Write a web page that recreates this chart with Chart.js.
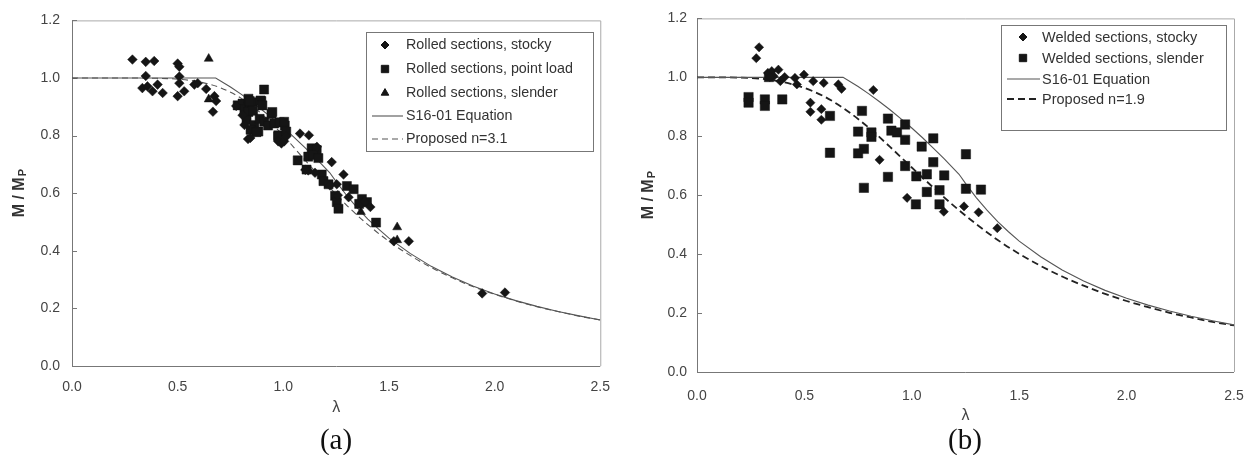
<!DOCTYPE html>
<html>
<head>
<meta charset="utf-8">
<script src="https://cdn.jsdelivr.net/npm/chart.js@4.4.1/dist/chart.umd.min.js"></script>
<style>
  html, body { margin: 0; padding: 0; background: #fff; overflow: hidden; }
  body { width: 1246px; height: 455px; position: relative; }
  canvas { position: absolute; top: 0; }
  #chartA { left: 0; }
  #chartB { left: 623px; }
  .cap { position: absolute; top: 423px; width: 60px; text-align: center; line-height: 32px;
         font-family: "Liberation Serif", "Times New Roman", serif; font-size: 29px; color: #111; }
</style>
</head>
<body>
<canvas id="chartA" width="623" height="430"></canvas>
<canvas id="chartB" width="640" height="430"></canvas>
<div class="cap" style="left:306px">(a)</div>
<div class="cap" style="left:935px">(b)</div>

<script>
// ---------- (a) rolled sections ----------
var rolledStockyX = [0.286, 0.349, 0.389, 0.349, 0.333, 0.357, 0.381, 0.405, 0.429, 0.500, 0.508, 0.508, 0.508, 0.500, 0.531,
    0.579, 0.595, 0.635, 0.674, 0.682, 0.667, 0.777, 0.807, 0.816, 0.833, 0.844, 0.991, 0.976, 1.004, 1.014,
    1.079, 1.121, 1.229, 1.118, 1.150, 1.285, 1.253, 1.221, 1.309, 1.258, 1.412, 1.386, 1.523, 1.594, 1.941,
    2.049, 1.159, 1.104];
var rolledStockyY = [1.064, 1.056, 1.059, 1.007, 0.965, 0.971, 0.954, 0.977, 0.948, 1.050, 1.039, 1.005, 0.982, 0.937, 0.954,
    0.977, 0.982, 0.962, 0.937, 0.920, 0.883, 0.903, 0.871, 0.837, 0.788, 0.792, 0.773, 0.780, 0.780, 0.797,
    0.807, 0.801, 0.708, 0.679, 0.671, 0.665, 0.631, 0.627, 0.586, 0.593, 0.552, 0.570, 0.433, 0.433, 0.252,
    0.255, 0.761, 0.681];

var rolledPointX = [0.784, 0.807, 0.816, 0.835, 0.841, 0.835, 0.854, 0.841, 0.857, 0.826, 0.863, 0.845, 0.882, 0.873, 0.896,
    0.888, 0.909, 0.892, 0.901, 0.910, 0.944, 0.928, 0.948, 0.957, 0.983, 1.007, 0.976, 0.976, 1.004, 1.014,
    1.068, 1.118, 1.134, 1.158, 1.142, 1.166, 1.110, 1.182, 1.190, 1.214, 1.301, 1.333, 1.245, 1.253, 1.261,
    1.372, 1.396, 1.359, 1.439];
var rolledPointY = [0.905, 0.911, 0.891, 0.928, 0.905, 0.882, 0.916, 0.920, 0.886, 0.854, 0.837, 0.820, 0.814, 0.812, 0.920,
    0.858, 0.960, 0.922, 0.905, 0.848, 0.875, 0.835, 0.882, 0.842, 0.846, 0.835, 0.801, 0.797, 0.848, 0.814,
    0.714, 0.727, 0.756, 0.750, 0.733, 0.722, 0.682, 0.665, 0.642, 0.631, 0.625, 0.614, 0.591, 0.569, 0.546,
    0.580, 0.569, 0.563, 0.498];

var rolledSlenderX = [0.647, 0.647, 1.367, 1.539, 1.539];
var rolledSlenderY = [1.067, 0.926, 0.535, 0.482, 0.437];

// ---------- (b) welded sections ----------
var weldedStockyX = [0.289, 0.276, 0.330, 0.348, 0.379, 0.357, 0.339, 0.388, 0.408, 0.456, 0.465, 0.498, 0.541, 0.590, 0.658,
    0.673, 0.821, 0.528, 0.528, 0.579, 0.579, 0.850, 0.978, 1.149, 1.243, 1.311, 1.398];
var weldedStockyY = [1.102, 1.065, 1.015, 1.021, 1.026, 1.004, 1.001, 0.987, 1.001, 0.998, 0.976, 1.009, 0.987, 0.981, 0.976,
    0.961, 0.957, 0.914, 0.883, 0.892, 0.856, 0.720, 0.591, 0.544, 0.562, 0.542, 0.488];

var weldedSlenderX = [0.240, 0.240, 0.316, 0.316, 0.397, 0.335, 0.619, 0.619, 0.768, 0.750, 0.777, 0.750, 0.777, 0.812, 0.812,
    0.889, 0.905, 0.931, 0.969, 0.969, 0.969, 0.889, 1.046, 1.100, 1.100, 1.021, 1.070, 1.070, 1.019, 1.151,
    1.129, 1.129, 1.252, 1.252, 1.322];
var weldedSlenderY = [0.933, 0.914, 0.925, 0.903, 0.925, 1.001, 0.869, 0.744, 0.886, 0.816, 0.757, 0.742, 0.625, 0.813, 0.798,
    0.860, 0.819, 0.813, 0.840, 0.788, 0.699, 0.662, 0.765, 0.793, 0.712, 0.664, 0.671, 0.611, 0.569, 0.667,
    0.617, 0.569, 0.739, 0.622, 0.619];

// ---------- design curves ----------
var s16X = [0, 0.68, 0.75, 0.8, 0.85, 0.9, 0.95, 1.0, 1.05, 1.1, 1.15, 1.2, 1.22, 1.25, 1.3, 1.35, 1.4, 1.45, 1.5,
    1.6, 1.7, 1.8, 1.9, 2.0, 2.1, 2.2, 2.3, 2.4, 2.5];
var s16Y = [1, 1, 0.969, 0.944, 0.917, 0.889, 0.859, 0.828, 0.795, 0.760, 0.724, 0.686, 0.671, 0.640, 0.592, 0.549, 0.510,
    0.476, 0.444, 0.391, 0.346, 0.309, 0.277, 0.250, 0.227, 0.207, 0.189, 0.174, 0.160];

var prop31X = [0, 0.3, 0.4, 0.5, 0.6, 0.7, 0.8, 0.9, 1.0, 1.1, 1.2, 1.3, 1.4, 1.5, 1.6, 1.7, 1.8, 1.9, 2.0, 2.1, 2.2,
    2.3, 2.4, 2.5];
var prop31Y = [1, 1.000, 0.999, 0.996, 0.987, 0.967, 0.930, 0.874, 0.800, 0.717, 0.635, 0.558, 0.491, 0.433, 0.384, 0.342,
    0.306, 0.275, 0.249, 0.226, 0.206, 0.189, 0.173, 0.160];

var prop19X = [0, 0.1, 0.2, 0.3, 0.4, 0.5, 0.6, 0.7, 0.8, 0.9, 1.0, 1.1, 1.2, 1.3, 1.4, 1.5, 1.6, 1.7, 1.8, 1.9, 2.0,
    2.1, 2.2, 2.3, 2.4, 2.5];
var prop19Y = [1, 1.000, 0.999, 0.995, 0.984, 0.964, 0.932, 0.886, 0.829, 0.763, 0.694, 0.626, 0.561, 0.502, 0.448, 0.401,
    0.360, 0.324, 0.293, 0.265, 0.241, 0.220, 0.201, 0.185, 0.170, 0.158];

var xTicks = [0, 0.5, 1.0, 1.5, 2.0, 2.5];
var yTicks = [0, 0.2, 0.4, 0.6, 0.8, 1.0, 1.2];

var FONT = '"Liberation Sans", Arial, sans-serif';
var INK = '#151515';

function pts(xs, ys) {
    return xs.map((x, i) => ({ x: x, y: ys[i] }));
}

function marks(label, xs, ys, style, r, rLeg) {
    return { label: label, data: pts(xs, ys), pointStyle: style, pointRadius: r, pointHoverRadius: r, legendRadius: rLeg,
        backgroundColor: INK, borderColor: INK, borderWidth: 0.5, showLine: false, order: 1 };
}

function courbe(label, xs, ys, dash, width, color, smooth) {
    return { label: label, data: pts(xs, ys), showLine: true, pointRadius: 0, borderColor: color,
        borderWidth: width, borderDash: dash, tension: 0, order: 2,
        cubicInterpolationMode: smooth ? 'monotone' : 'default' };
}

// cadre, petits traits, titre vertical et légende encadrée
var cadrePlugin = {
    id: 'cadre',
    beforeDatasetsDraw(chart, args, o) {
        var ctx = chart.ctx, a = chart.chartArea, ys = chart.scales.y;
        ctx.save();
        ctx.lineWidth = 1;
        ctx.strokeStyle = '#aaa';
        ctx.beginPath();
        ctx.moveTo(a.left, a.top + 0.5); ctx.lineTo(a.right + 0.5, a.top + 0.5); ctx.lineTo(a.right + 0.5, a.bottom);
        ctx.stroke();
        ctx.strokeStyle = '#777';
        ctx.beginPath();
        ctx.moveTo(a.left + 0.5, a.top); ctx.lineTo(a.left + 0.5, a.bottom + 0.5); ctx.lineTo(a.right, a.bottom + 0.5);
        yTicks.forEach(v => {
            var py = Math.round(ys.getPixelForValue(v)) + 0.5;
            ctx.moveTo(a.left, py); ctx.lineTo(a.left + 5, py);
        });
        ctx.stroke();
        ctx.restore();
    },
    afterDraw(chart, args, o) {
        var ctx = chart.ctx, a = chart.chartArea;
        ctx.save();
        // M / Mp
        ctx.translate(o.titleX, (a.top + a.bottom) / 2);
        ctx.rotate(-Math.PI / 2);
        ctx.fillStyle = '#333';
        ctx.textBaseline = 'middle';
        ctx.font = 'bold 16px ' + FONT;
        var w1 = ctx.measureText('M / M').width;
        ctx.font = 'bold 11px ' + FONT;
        var w2 = ctx.measureText('P').width;
        var x0 = -(w1 + w2 + 1) / 2;
        ctx.font = 'bold 16px ' + FONT;
        ctx.fillText('M / M', x0, 0);
        ctx.font = 'bold 11px ' + FONT;
        ctx.fillText('P', x0 + w1 + 1, 3);
        ctx.restore();

        // légende
        var L = o.legend;
        ctx.save();
        ctx.fillStyle = '#fff';
        ctx.fillRect(L.left, L.top, L.right - L.left, L.bottom - L.top);
        ctx.strokeStyle = '#777';
        ctx.lineWidth = 1;
        ctx.strokeRect(L.left + 0.5, L.top + 0.5, L.right - L.left, L.bottom - L.top);
        ctx.font = L.fontSize + 'px ' + FONT;
        ctx.textBaseline = 'middle';
        chart.data.datasets.forEach((ds, i) => {
            var y = L.rows[i];
            if (ds.showLine) {
                ctx.strokeStyle = ds.borderColor;
                ctx.lineWidth = ds.borderWidth;
                ctx.setLineDash(ds.borderDash || []);
                ctx.beginPath();
                ctx.moveTo(L.lineX1, y); ctx.lineTo(L.lineX2, y);
                ctx.stroke();
                ctx.setLineDash([]);
            } else {
                ctx.fillStyle = INK;
                ctx.strokeStyle = INK;
                Chart.helpers.drawPoint(ctx, { pointStyle: ds.pointStyle, radius: ds.legendRadius, rotation: 0, borderWidth: 0.5 }, L.markX, y);
            }
            ctx.fillStyle = '#333';
            ctx.fillText(ds.label, L.textX, y + 0.5);
        });
        ctx.restore();
    }
};

function options(cfg) {
    return {
        responsive: false,
        animation: false,
        layout: { padding: { top: cfg.top, right: cfg.right, left: 0, bottom: 0 } },
        plugins: {
            legend: { display: false },
            tooltip: { enabled: false },
            cadre: { titleX: cfg.titleX, legend: cfg.legend }
        },
        scales: {
            x: {
                type: 'linear', min: 0, max: 2.5,
                afterBuildTicks: s => { s.ticks = xTicks.map(v => ({ value: v })); },
                ticks: { padding: cfg.xPad, color: '#444', font: { family: FONT, size: 14 }, callback: v => v.toFixed(1) },
                grid: { display: false, drawTicks: false },
                border: { display: false },
                title: { display: true, text: 'λ', color: '#444', font: { family: FONT, size: 16 }, padding: { top: 0, bottom: cfg.lamPad } },
                afterFit: s => { s.height = cfg.xH; }
            },
            y: {
                type: 'linear', min: 0, max: 1.2,
                afterBuildTicks: s => { s.ticks = yTicks.map(v => ({ value: v })); },
                ticks: { padding: cfg.yPad, color: '#444', font: { family: FONT, size: 14 }, callback: v => v.toFixed(1) },
                grid: { display: false, drawTicks: false },
                border: { display: false },
                afterFit: s => { s.width = cfg.yW; }
            }
        }
    };
}

new Chart(document.getElementById('chartA'), {
    type: 'scatter',
    data: {
        datasets: [
            marks('Rolled sections, stocky', rolledStockyX, rolledStockyY, 'rectRot', 4.8, 4),
            marks('Rolled sections, point load', rolledPointX, rolledPointY, 'rect', 6.4, 5.2),
            marks('Rolled sections, slender', rolledSlenderX, rolledSlenderY, 'triangle', 5.2, 4.4),
            courbe('S16-01 Equation', s16X, s16Y, [], 1.1, '#555', false),
            courbe('Proposed n=3.1', prop31X, prop31Y, [6, 4], 1.1, '#555', true)
        ]
    },
    options: options({
        top: 13, right: 22, xH: 64, yW: 72, xPad: 13, yPad: 12, lamPad: 13, titleX: 20,
        legend: { left: 366, top: 32, right: 593, bottom: 151, rows: [45, 69, 93, 116, 139],
            markX: 385, textX: 406, lineX1: 372, lineX2: 403, fontSize: 14.3 }
    }),
    plugins: [cadrePlugin]
});

new Chart(document.getElementById('chartB'), {
    type: 'scatter',
    data: {
        datasets: [
            marks('Welded sections, stocky', weldedStockyX, weldedStockyY, 'rectRot', 4.6, 4),
            marks('Welded sections, slender', weldedSlenderX, weldedSlenderY, 'rect', 6.6, 5.2),
            courbe('S16-01 Equation', s16X, s16Y, [], 1.1, '#555', false),
            courbe('Proposed n=1.9', prop19X, prop19Y, [7, 4], 1.8, '#222', true)
        ]
    },
    options: options({
        top: 15, right: 29, xH: 58, yW: 74, xPad: 16, yPad: 10, lamPad: 5, titleX: 26,
        legend: { left: 378, top: 25, right: 603, bottom: 130, rows: [37, 58, 79, 99],
            markX: 400, textX: 419, lineX1: 384, lineX2: 417, fontSize: 14.5 }
    }),
    plugins: [cadrePlugin]
});
</script>
</body>
</html>
